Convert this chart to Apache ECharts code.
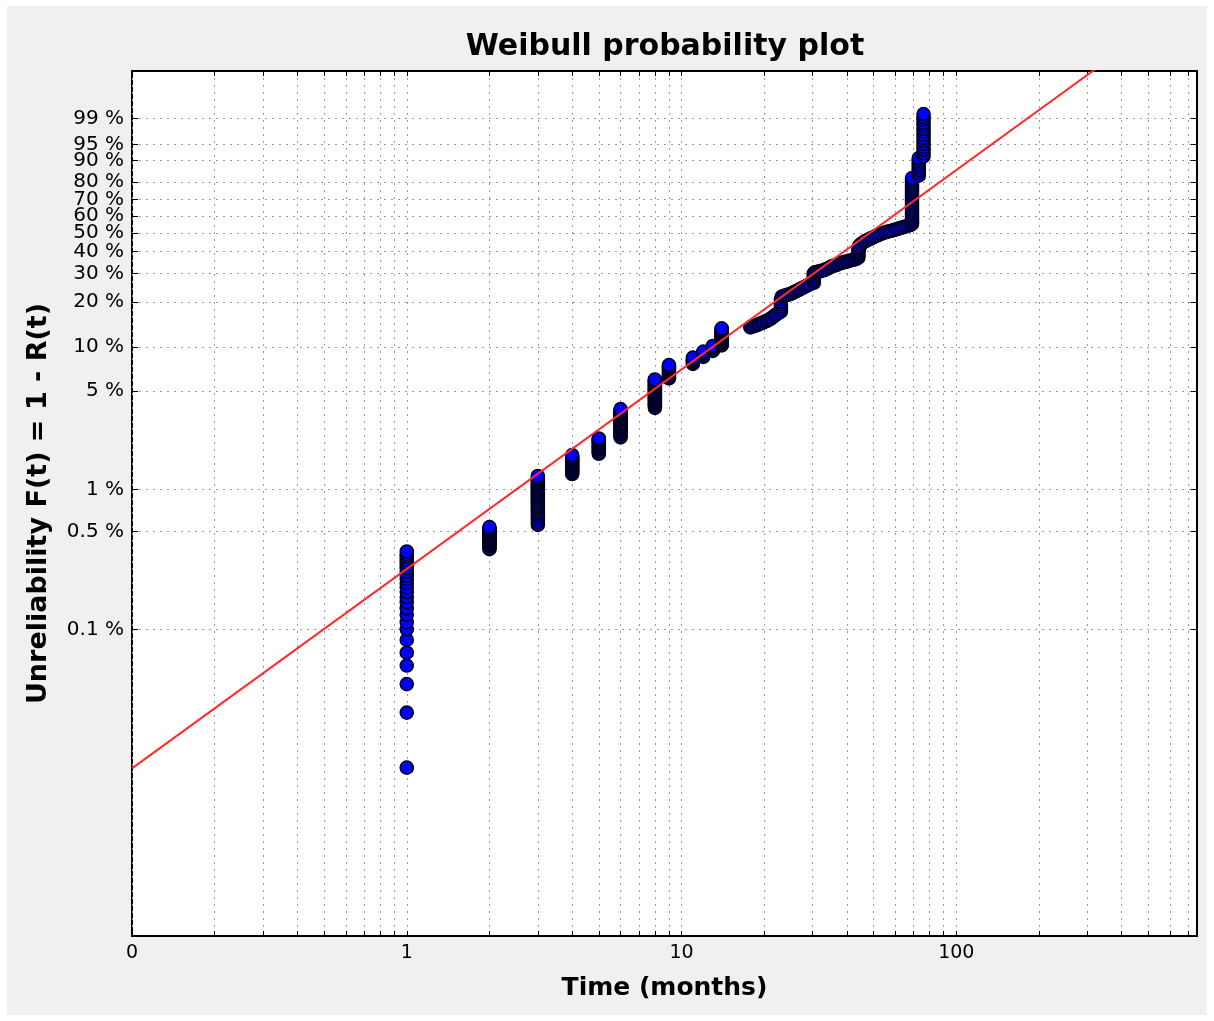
<!DOCTYPE html>
<html>
<head>
<meta charset="utf-8">
<title>Weibull probability plot</title>
<script src="https://cdn.jsdelivr.net/npm/echarts@6/dist/echarts.min.js"></script>
<style>
  html, body { margin: 0; padding: 0; background: #fff; }
  #panel { position: absolute; left: 7px; top: 6px; width: 1200px; height: 1009px; background: #f0f0f0; }
  #chart { position: absolute; left: 0; top: 0; width: 1214px; height: 1021px; }
</style>
</head>
<body>
<div id="panel"></div>
<div id="chart"></div>
<script>
// failures recorded at the same month: time (months) and unreliability F(t) in %
const stackMonths = [1, 2, 3, 4, 5, 6, 8, 9, 11, 12, 13, 14, 69, 73, 76]
const stackPct = [
  [0.0102, 0.0253, 0.0405, 0.055, 0.068, 0.084, 0.1, 0.112, 0.127, 0.141, 0.156, 0.17, 0.185, 0.199, 0.214, 0.229, 0.243, 0.258, 0.273, 0.287, 0.302, 0.316, 0.331, 0.345, 0.361],
  [0.375, 0.383, 0.39, 0.398, 0.405, 0.413, 0.42, 0.427, 0.434, 0.442, 0.449, 0.456, 0.463, 0.471, 0.478, 0.485, 0.492, 0.5, 0.507, 0.515, 0.522, 0.53, 0.539],
  [0.56, 0.585, 0.61, 0.635, 0.66, 0.685, 0.71, 0.735, 0.76, 0.785, 0.81, 0.835, 0.86, 0.885, 0.91, 0.935, 0.96, 0.985, 1.01, 1.035, 1.06, 1.085, 1.11, 1.135, 1.16, 1.185, 1.21, 1.25],
  [1.29, 1.32, 1.35, 1.38, 1.41, 1.44, 1.47, 1.5, 1.53, 1.56, 1.59, 1.62, 1.65, 1.68, 1.71, 1.76],
  [1.8, 1.84, 1.88, 1.92, 1.96, 2.0, 2.04, 2.08, 2.12, 2.16, 2.2, 2.24, 2.28, 2.31],
  [2.35, 2.4, 2.45, 2.5, 2.55, 2.6, 2.65, 2.7, 2.75, 2.8, 2.85, 2.9, 2.95, 3.0, 3.05, 3.1, 3.15, 3.2, 3.25, 3.3, 3.35, 3.4, 3.45, 3.5, 3.55, 3.6, 3.65, 3.72],
  [3.8, 3.88, 3.96, 4.04, 4.12, 4.2, 4.28, 4.36, 4.44, 4.52, 4.6, 4.68, 4.76, 4.84, 4.92, 5.0, 5.08, 5.16, 5.24, 5.32, 5.4, 5.48, 5.56, 5.64, 5.72, 5.8, 5.9, 6.0],
  [6.1, 6.25, 6.4, 6.55, 6.7, 6.85, 7.0, 7.15, 7.3, 7.45, 7.55],
  [7.7, 7.85, 8.0, 8.15, 8.3, 8.5],
  [8.6, 8.75, 8.9, 9.05, 9.2, 9.33],
  [9.45, 9.6, 9.75, 9.9, 10.05, 10.2],
  [10.3, 10.45, 10.6, 10.75, 10.9, 11.05, 11.2, 11.35, 11.5, 11.65, 11.8, 11.95, 12.1, 12.25, 12.4, 12.55, 12.7, 12.85, 13.0, 13.2, 13.4],
  [55.5, 56.5, 57.7, 58.9, 60.1, 61.3, 62.5, 63.7, 64.9, 66.1, 67.3, 68.6, 69.8, 70.9, 72.1, 73.3, 74.5, 75.6, 76.7, 77.8, 78.9, 80.0, 81.0, 82.1],
  [83.3, 84.5, 85.7, 86.8, 87.9, 88.9, 89.9, 90.8],
  [91.5, 92.5, 93.5, 94.3, 95.1, 95.8, 96.4, 97.0, 97.5, 97.9, 98.3, 98.6, 98.9, 99.1, 99.29]
]

// later failures spread out in time: [months, F %]
const tailPoints = [
  [17.8, 13.6], [18.1, 13.75], [18.4, 13.9], [18.7, 14.05], [19.0, 14.2], [19.3, 14.4], [19.7, 14.6], [20.0, 14.8],
  [20.4, 15.0], [20.7, 15.25], [21.1, 15.5], [21.4, 15.85], [21.8, 16.2], [22.1, 16.55], [22.5, 16.9],
  [23, 17.3], [23, 17.9], [23, 18.6], [23, 19.3], [23, 20.0], [23, 20.8], [23.2, 21.6],
  [23.6, 21.8], [24.0, 22.0], [24.4, 22.2], [24.9, 22.4], [25.3, 22.75], [25.8, 23.1], [26.2, 23.4], [26.6, 23.7],
  [27.0, 24.05], [27.5, 24.4], [28.0, 24.8], [28.5, 25.2], [29.0, 25.55], [29.5, 25.9],
  [30.3, 26.3], [30.3, 27.0], [30.3, 27.7], [30.3, 28.4], [30.3, 29.2], [30.3, 30.0],
  [30.6, 30.4], [31.0, 30.6], [31.5, 30.75], [32.0, 30.9], [32.5, 31.15], [33.1, 31.4], [33.6, 31.8], [34.2, 32.2],
  [34.8, 32.65], [35.4, 33.1], [36.0, 33.35], [36.6, 33.6], [37.2, 34.05], [37.9, 34.5], [38.5, 34.7], [39.2, 34.9],
  [39.8, 35.15], [40.5, 35.4], [41.2, 35.7], [41.9, 36.0], [42.6, 36.2], [43.3, 36.4],
  [44, 37.0], [44, 37.9], [44, 38.8], [44, 39.7], [44, 40.6], [44.3, 41.4], [44.3, 42.2], [44.3, 43.0],
  [45.0, 44.0], [46.0, 45.0], [46.7, 45.5], [47.5, 46.1], [48.3, 46.6], [49.1, 47.2], [50.0, 47.7], [50.8, 48.3],
  [51.8, 48.8], [52.9, 49.4], [54.0, 49.9], [55.2, 50.5], [56.3, 50.85], [57.5, 51.2], [58.7, 51.6], [60.0, 52.0],
  [61.2, 52.45], [62.5, 52.9], [63.8, 53.35], [65.2, 53.8], [66.6, 54.25], [68.0, 54.7]
]

// fitted Weibull line (shape, scale in months)
const fitBeta = 1.43
const fitEta = 62.4

// axis ticks
const xDecades = [0.1, 1, 10, 100]
const xDecadeLabels = ['0', '1', '10', '100']
const xMultipliers = [1, 2, 3, 4, 5, 6, 7, 8, 9]
const yTickPct = [0.1, 0.5, 1, 5, 10, 20, 30, 40, 50, 60, 70, 80, 90, 95, 99]
const yTickLabels = ['0.1 %', '0.5 %', '1 %', '5 %', '10 %', '20 %', '30 %', '40 %', '50 %', '60 %', '70 %', '80 %', '90 %', '95 %', '99 %']

// Weibull paper: x = log10(t), y = ln(-ln(1 - F))
const toX = t => Math.log10(t)
const toY = pct => Math.log(-Math.log(1 - pct / 100))

const xMin = -1
const xMax = 2.876
const yMin = -11.97
const yMax = 2.31

const FONT = 'DejaVu Sans'

const xTickValues = []
xDecades.forEach(d => {
  xMultipliers.forEach(m => {
    const v = toX(d * m)
    if (v <= xMax + 1e-9) xTickValues.push(v)
  })
})
const xLabelValues = xDecades.map(toX)
const yTickValues = yTickPct.map(toY)

function nearestLabel (values, labels, v) {
  let best = 0
  values.forEach((x, i) => {
    if (Math.abs(x - v) < Math.abs(values[best] - v)) best = i
  })
  return labels[best]
}

// draw in order of increasing F so the top circle of each stack stays on top
const points = []
stackMonths.forEach((t, i) => {
  stackPct[i].forEach(p => points.push([toX(t), toY(p), p]))
})
tailPoints.forEach(([t, p]) => points.push([toX(t), toY(p), p]))
points.sort((a, b) => a[2] - b[2])

// line: y = beta * (ln t - ln eta)
const fitLine = [xMin, xMax].map(x => [x, fitBeta * (x * Math.LN10 - Math.log(fitEta))])

const gridLine = { show: true, lineStyle: { color: '#999', width: 1, type: [2, 5] } }
const noLine = { show: false, onZero: false }

const chart = echarts.init(document.getElementById('chart'))
chart.setOption({
  animation: false,
  backgroundColor: 'transparent',
  title: {
    text: 'Weibull probability plot',
    left: 660,
    top: 27,
    textAlign: 'center',
    textStyle: { fontFamily: FONT, fontSize: 30, fontWeight: 'bold', color: '#000' }
  },
  grid: {
    left: 132,
    right: 17,
    top: 71,
    bottom: 85,
    containLabel: false,
    show: true,
    backgroundColor: '#fff',
    borderColor: '#000',
    borderWidth: 2
  },
  xAxis: [
    {
      type: 'value',
      position: 'bottom',
      min: xMin,
      max: xMax,
      axisLine: noLine,
      axisTick: { inside: true, length: 5, customValues: xTickValues, lineStyle: { color: '#000' } },
      axisLabel: {
        customValues: xLabelValues,
        formatter: v => nearestLabel(xLabelValues, xDecadeLabels, v),
        margin: 8,
        fontFamily: FONT,
        fontSize: 19,
        color: '#000'
      },
      splitLine: gridLine,
      name: 'Time (months)',
      nameLocation: 'middle',
      nameGap: 40,
      nameTextStyle: { fontFamily: FONT, fontSize: 25, fontWeight: 'bold', color: '#000' }
    },
    {
      type: 'value',
      position: 'top',
      min: xMin,
      max: xMax,
      axisLine: noLine,
      axisTick: { inside: true, length: 5, customValues: xTickValues, lineStyle: { color: '#000' } },
      axisLabel: { show: false },
      splitLine: { show: false }
    }
  ],
  yAxis: [
    {
      type: 'value',
      position: 'left',
      min: yMin,
      max: yMax,
      axisLine: noLine,
      axisTick: { inside: true, length: 6, customValues: yTickValues, lineStyle: { color: '#000' } },
      axisLabel: {
        customValues: yTickValues,
        formatter: v => nearestLabel(yTickValues, yTickLabels, v),
        margin: 8,
        fontFamily: FONT,
        fontSize: 20,
        color: '#000'
      },
      splitLine: gridLine,
      name: 'Unreliability F(t) = 1 - R(t)',
      nameLocation: 'middle',
      nameGap: 80,
      nameTextStyle: { fontFamily: FONT, fontSize: 27, fontWeight: 'bold', color: '#000' }
    },
    {
      type: 'value',
      position: 'right',
      min: yMin,
      max: yMax,
      axisLine: noLine,
      axisTick: { inside: true, length: 6, customValues: yTickValues, lineStyle: { color: '#000' } },
      axisLabel: { show: false },
      splitLine: { show: false }
    }
  ],
  series: [
    {
      name: 'failures',
      type: 'scatter',
      data: points,
      symbol: 'circle',
      symbolSize: 13,
      itemStyle: { color: '#0000ff', borderColor: '#000022', borderWidth: 1.6, opacity: 1 },
      emphasis: { disabled: true },
      z: 2
    },
    {
      name: 'fit',
      type: 'line',
      data: fitLine,
      showSymbol: false,
      clip: true,
      lineStyle: { color: '#ff2a2a', width: 2 },
      emphasis: { disabled: true },
      z: 3
    }
  ]
})
</script>
</body>
</html>
